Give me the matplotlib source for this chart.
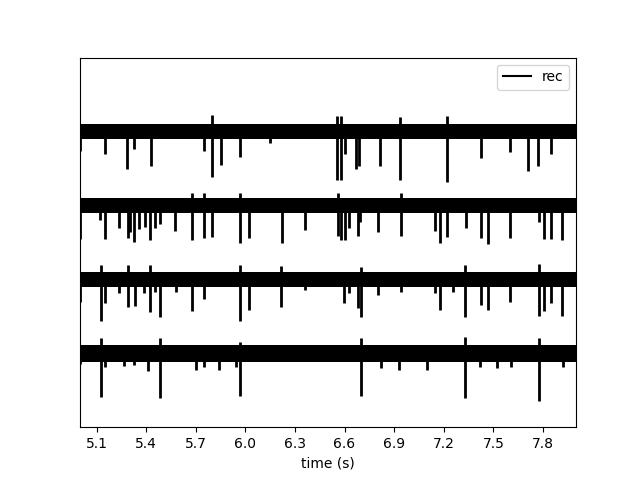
import matplotlib
matplotlib.use("Agg")
import matplotlib.pyplot as plt
import numpy as np

# time window (s)
t_start, t_end = 5.0, 8.0
xticks = [5.1, 5.4, 5.7, 6.0, 6.3, 6.6, 6.9, 7.2, 7.5, 7.8]

# channel offsets (bottom to top)
offsets = [0, 1, 2, 3]
# noise band half-width per channel
noise_hw = [0.115, 0.105, 0.10, 0.10]

# downward spikes per channel: times and depths
ch0_t = [5.0, 5.127, 5.153, 5.265, 5.329, 5.412, 5.481, 5.703, 5.753, 5.841, 5.941, 5.965,
         6.701, 6.822, 6.927, 7.099, 7.327, 7.422, 7.525, 7.604, 7.778, 7.919]
ch0_a = [0.15, 0.59, 0.19, 0.17, 0.16, 0.24, 0.60, 0.23, 0.19, 0.22, 0.18, 0.58,
         0.58, 0.20, 0.22, 0.22, 0.60, 0.18, 0.20, 0.18, 0.64, 0.19]
ch0_up_t = [5.127, 5.481, 5.965, 6.701, 7.327, 7.778]
ch0_up_a = [0.20, 0.20, 0.15, 0.20, 0.22, 0.20]

ch1_t = [5.0, 5.127, 5.153, 5.235, 5.291, 5.332, 5.386, 5.426, 5.456, 5.481, 5.578, 5.679,
         5.753, 5.965, 6.022, 6.218, 6.359, 6.596, 6.630, 6.681, 6.697, 6.802, 6.939,
         7.145, 7.180, 7.256, 7.327, 7.424, 7.468, 7.602, 7.778, 7.808, 7.847, 7.913]
ch1_a = [0.31, 0.57, 0.32, 0.19, 0.38, 0.36, 0.19, 0.44, 0.17, 0.51, 0.17, 0.43,
         0.27, 0.57, 0.41, 0.38, 0.15, 0.32, 0.19, 0.39, 0.51, 0.21, 0.17,
         0.19, 0.41, 0.17, 0.51, 0.35, 0.42, 0.31, 0.50, 0.43, 0.32, 0.49]
ch1_up_t = [5.127, 5.291, 5.426, 5.965, 6.218, 6.697, 7.327, 7.778]
ch1_up_a = [0.19, 0.19, 0.19, 0.20, 0.18, 0.17, 0.19, 0.21]

ch2_t = [5.0, 5.123, 5.153, 5.235, 5.289, 5.301, 5.329, 5.356, 5.396, 5.426, 5.456, 5.481,
         5.574, 5.679, 5.750, 5.796, 5.965, 6.022, 6.220, 6.362, 6.559, 6.580, 6.600,
         6.630, 6.681, 6.695, 6.802, 6.939, 7.150, 7.180, 7.222, 7.332, 7.424, 7.468,
         7.602, 7.778, 7.808, 7.847, 7.913]
ch2_a = [0.45, 0.20, 0.46, 0.31, 0.44, 0.36, 0.50, 0.32, 0.29, 0.47, 0.31, 0.25,
         0.35, 0.47, 0.44, 0.43, 0.51, 0.44, 0.51, 0.33, 0.42, 0.47, 0.47,
         0.31, 0.42, 0.23, 0.36, 0.42, 0.34, 0.51, 0.43, 0.31, 0.44, 0.52,
         0.44, 0.23, 0.45, 0.45, 0.47]
ch2_up_t = [5.679, 5.750, 5.965, 6.559, 6.939]
ch2_up_a = [0.17, 0.17, 0.17, 0.17, 0.17]

ch3_t = [5.0, 5.153, 5.285, 5.329, 5.430, 5.750, 5.796, 5.850, 5.965, 6.150,
         6.553, 6.580, 6.600, 6.667, 6.687, 6.812, 6.938, 7.222, 7.424, 7.602,
         7.711, 7.768, 7.847]
ch3_a = [0.26, 0.30, 0.51, 0.23, 0.46, 0.26, 0.61, 0.45, 0.34, 0.16,
         0.66, 0.66, 0.30, 0.51, 0.47, 0.46, 0.66, 0.68, 0.36, 0.28,
         0.53, 0.46, 0.30]
ch3_up_t = [5.796, 6.553, 6.580, 6.938, 7.222]
ch3_up_a = [0.22, 0.21, 0.21, 0.19, 0.21]

down_t = [ch0_t, ch1_t, ch2_t, ch3_t]
down_a = [ch0_a, ch1_a, ch2_a, ch3_a]
up_t = [ch0_up_t, ch1_up_t, ch2_up_t, ch3_up_t]
up_a = [ch0_up_a, ch1_up_a, ch2_up_a, ch3_up_a]

fig, ax = plt.subplots(figsize=(6.4, 4.8), dpi=100)

for i, off in enumerate(offsets):
    hw = noise_hw[i]
    ax.fill_between([t_start, t_end], off - hw, off + hw, color="black", linewidth=0)
    label = "rec" if i == 0 else None
    ax.plot([t_start, t_end], [off, off], color="black", lw=1.5, label=label)
    dt = np.array(down_t[i]); da = np.array(down_a[i])
    ax.vlines(dt, off - da, off, color="black", lw=2)
    ut = np.array(up_t[i]); ua = np.array(up_a[i])
    ax.vlines(ut, off, off + ua, color="black", lw=2)

ax.set_xlim(t_start, t_end)
ax.set_ylim(-1, 4)
ax.set_xticks(xticks)
ax.set_xticklabels([f"{v:.1f}" for v in xticks])
ax.set_yticks([])
ax.set_xlabel("time (s)")
ax.legend(loc="upper right")

fig.savefig("out.png", dpi=100)
